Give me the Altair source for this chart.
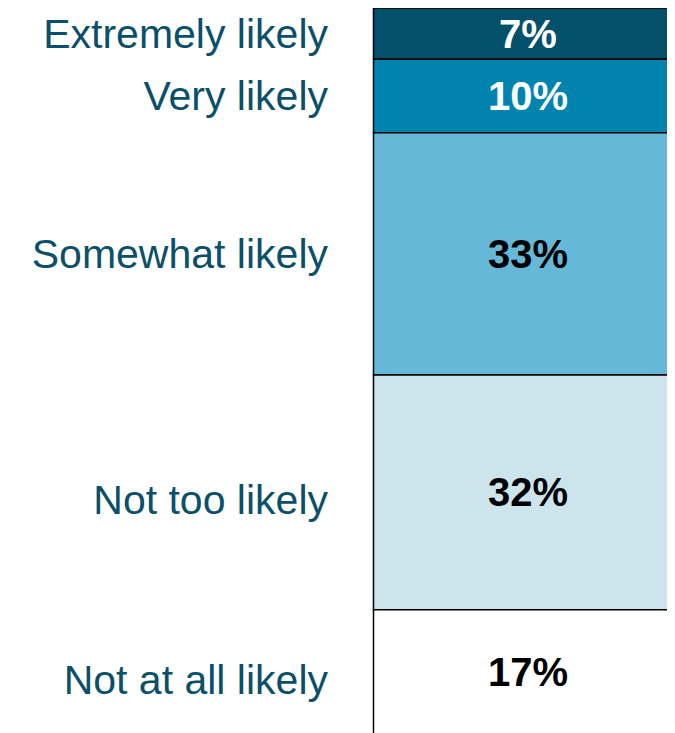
import altair as alt
import pandas as pd

categories = ["Extremely likely", "Very likely", "Somewhat likely", "Not too likely", "Not at all likely"]
values = [7, 10, 33, 32, 17]
fill_colors = ["#03506B", "#0084AF", "#65B8D7", "#CCE5ED", "#FFFFFF"]

df = pd.DataFrame({"category": categories, "value": values, "idx": list(range(len(values)))})

W, H = 659, 725
yscale = alt.Scale(domain=[0, 98.8], reverse=True, nice=False, zero=False)

base = alt.Chart(df).transform_stack(
    stack="value", groupby=[], as_=["y0", "y1"], sort=[alt.SortField("idx", order="ascending")]
).transform_calculate(mid="(datum.y0 + datum.y1) / 2", pct="datum.value + '%'")

bars = base.mark_rect(stroke="black", strokeWidth=1.5, clip=True).encode(
    x=alt.value(365.5),
    x2=alt.value(700),
    y=alt.Y("y0:Q", scale=yscale, axis=None),
    y2="y1:Q",
    fill=alt.Fill("category:N", scale=alt.Scale(domain=categories, range=fill_colors), legend=None),
)

pct_text = base.mark_text(font="Liberation Sans", fontSize=40, fontWeight="bold", align="center",
                          baseline="middle", dy=2).encode(
    x=alt.value(520),
    y=alt.Y("mid:Q", scale=yscale, axis=None),
    text="pct:N",
    color=alt.condition("datum.idx < 2", alt.value("white"), alt.value("black")),
)

cat_top = base.transform_filter("datum.idx < 3").mark_text(
    font="Liberation Sans", fontSize=41, align="right", baseline="middle", color="#0B5068", dy=2).encode(
    x=alt.value(320),
    y=alt.Y("mid:Q", scale=yscale, axis=None),
    text="category:N",
)

cat_bottom = base.transform_filter("datum.idx >= 3").mark_text(
    font="Liberation Sans", fontSize=41, align="right", baseline="middle", color="#0B5068", dy=10).encode(
    x=alt.value(320),
    y=alt.Y("mid:Q", scale=yscale, axis=None),
    text="category:N",
)

chart = alt.layer(bars, pct_text, cat_top, cat_bottom).properties(
    width=W, height=H,
    autosize=alt.AutoSizeParams(type="none"),
    padding=0,
).configure_view(stroke=None)

chart.save("out.html", embed_options={"renderer": "svg", "actions": False})
